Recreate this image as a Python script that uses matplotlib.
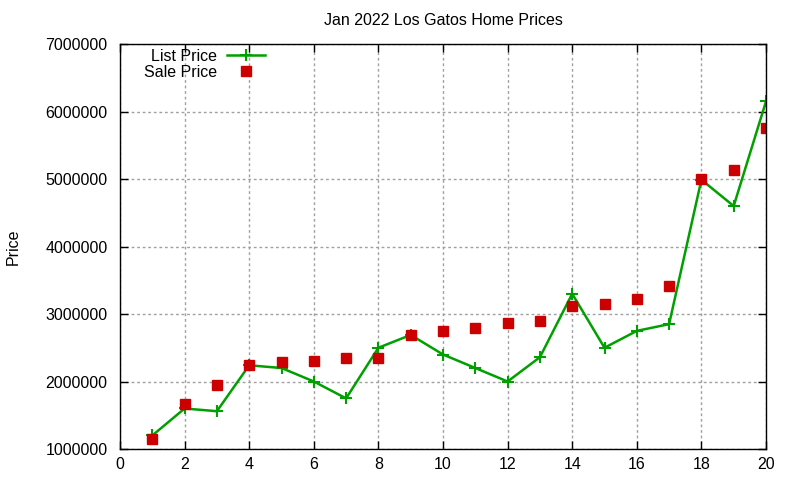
import matplotlib
matplotlib.use('Agg')
import matplotlib.pyplot as plt

plt.rcParams['font.family'] = ['Liberation Sans', 'DejaVu Sans']

homes = list(range(1, 21))
list_price = [1200000, 1600000, 1560000, 2240000, 2200000, 2000000, 1750000, 2500000, 2690000, 2400000,
              2200000, 2000000, 2360000, 3300000, 2500000, 2750000, 2850000, 4990000, 4600000, 6150000]
sale_price = [1150000, 1670000, 1950000, 2250000, 2290000, 2310000, 2350000, 2350000, 2690000, 2750000,
              2800000, 2860000, 2900000, 3120000, 3150000, 3220000, 3420000, 5000000, 5140000, 5750000]

fig = plt.figure(figsize=(8, 4.8), dpi=100)
ax = fig.add_axes([0.15, 0.0646, 0.8075, 0.8436])

ax.plot(homes, list_price, color='#00a000', lw=1.8, marker='+', ms=8, mew=1.5, label='List Price')
ax.plot(homes, sale_price, ls='none', color='#cc0000', marker='s', ms=6.5, label='Sale Price')

ax.set_xlim(0, 20)
ax.set_ylim(1000000, 7000000)
ax.set_xticks(range(0, 21, 2))
ax.set_yticks(range(1000000, 7000001, 1000000))
ax.set_yticklabels([str(v) for v in range(1000000, 7000001, 1000000)])
ax.grid(True, color='#a0a0a0', ls=(0, (2, 2)), lw=1)
ax.tick_params(direction='in', top=True, right=True, labelsize=11.5, length=6, width=1)
ax.tick_params(axis='y', pad=9)
ax.tick_params(axis='x', pad=6)
for s in ax.spines.values():
    s.set_linewidth(1)
ax.set_title('Jan 2022 Los Gatos Home Prices', fontsize=11.5, pad=14)
ax.set_ylabel('Price', fontsize=11.5)
ax.yaxis.set_label_coords(-0.153, 0.5)

ax.legend(loc='upper left', markerfirst=False, frameon=False, fontsize=11.5,
          handlelength=2.4, handletextpad=0.6, borderaxespad=0.1, labelspacing=0.05,
          bbox_to_anchor=(0.025, 1.008))

fig.savefig('out.png')
